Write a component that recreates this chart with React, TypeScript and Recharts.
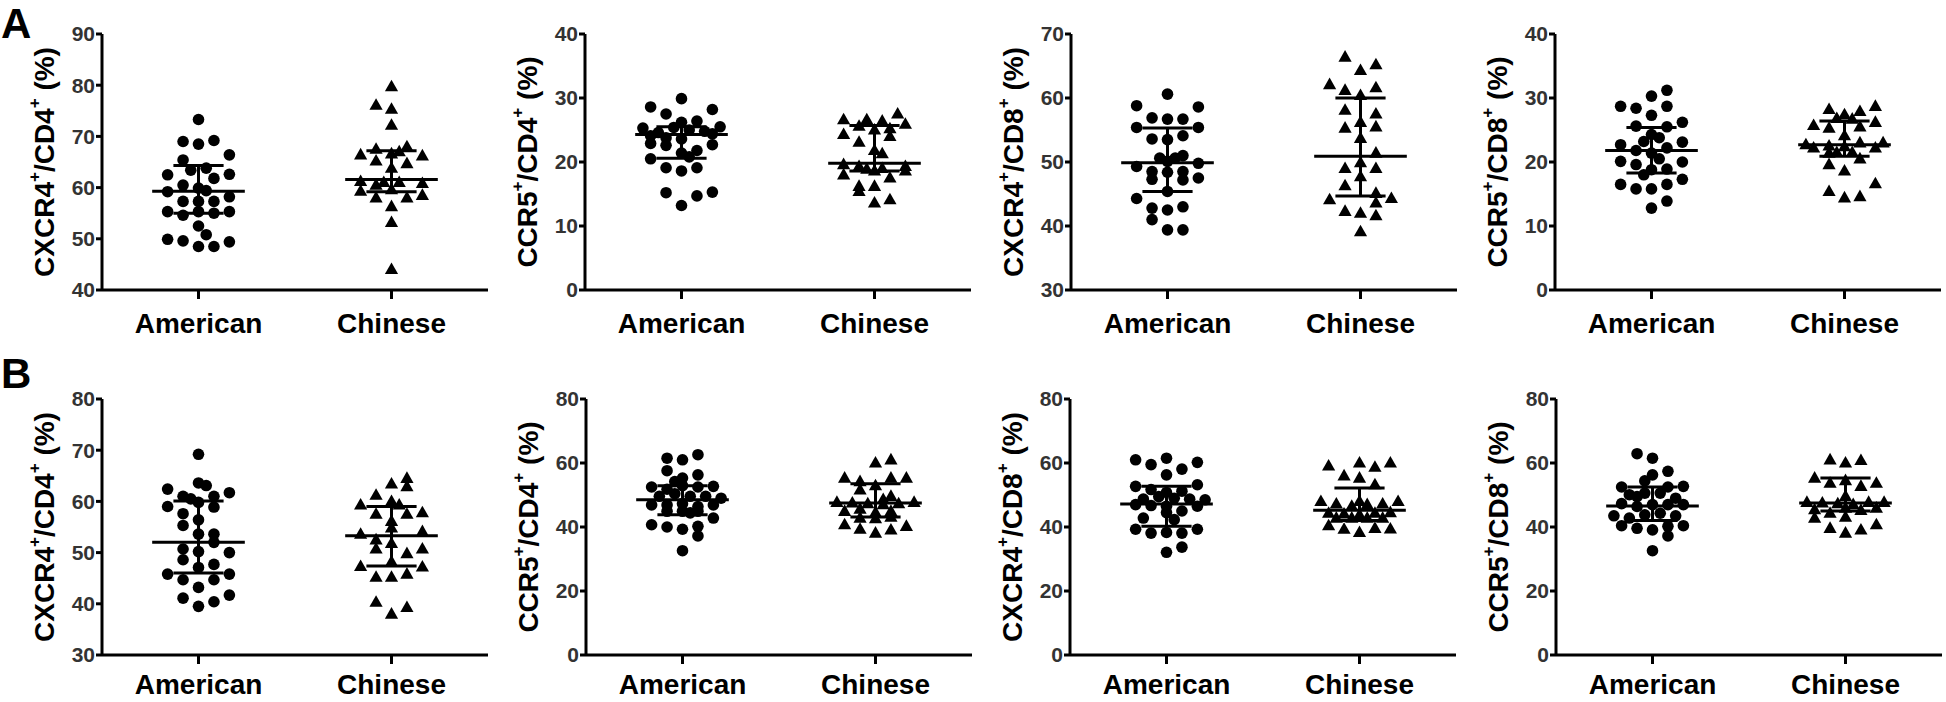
import React from 'react';
import { ScatterChart, Scatter, XAxis, YAxis, ReferenceLine } from 'recharts';

const FONT = '"Liberation Sans", Arial, sans-serif';
const groups = ['American', 'Chinese'];

// row A, CXCR4+/CD4+
const a1AmericanValues = [73.3, 69.0, 68.5, 69.2, 66.4, 65.4, 63.4, 63.8, 62.5, 62.6, 61.8, 60.5, 59.9, 59.4, 59.2, 58.2, 57.3, 57.3, 57.3, 55.3, 54.6, 55.3, 55.0, 55.3, 52.5, 50.8, 49.9, 49.6, 49.4, 48.5, 48.5];
const a1AmericanJitter = [0, -0.08, 0, 0.08, 0.16, -0.08, -0.04, 0.04, -0.16, 0.16, 0.08, -0.08, 0, 0.04, -0.16, 0.16, -0.08, 0, 0.08, -0.16, -0.08, 0, 0.08, 0.16, 0, 0.04, -0.16, -0.08, 0.16, 0, 0.08];
const a1ChineseValues = [79.7, 76.1, 75.3, 72.2, 66.4, 67.5, 66.6, 67.0, 68.0, 66.2, 65.2, 64.7, 63.8, 61.2, 60.5, 61.0, 61.0, 60.8, 59.3, 58.0, 59.6, 58.0, 58.5, 56.3, 53.2, 44.0];
const a1ChineseJitter = [0, -0.08, 0, 0, -0.16, -0.08, 0, 0.04, 0.08, 0.16, -0.08, 0.08, 0, -0.16, -0.08, -0.04, 0.04, 0.16, -0.16, -0.08, 0, 0.08, 0.16, 0, 0, 0];
const a1Mid = [59.3, 61.6];
const a1Low = [55.0, 59.2];
const a1High = [64.3, 67.2];

// row A, CCR5+/CD4+
const a2AmericanValues = [29.9, 28.6, 28.2, 27.5, 26.2, 26.4, 25.3, 25.5, 24.6, 25.4, 25.0, 24.8, 24.1, 24.4, 23.8, 22.9, 22.6, 21.4, 21.8, 22.7, 20.5, 19.1, 18.6, 19.1, 15.2, 14.7, 15.3, 13.2, 23.6, 20.8];
const a2AmericanJitter = [0, -0.16, 0.16, -0.08, 0, 0.08, -0.2, 0.2, -0.12, -0.04, 0.04, 0.12, -0.16, 0.16, -0.08, -0.16, -0.08, 0, 0.08, 0.16, -0.16, -0.08, 0, 0.08, -0.08, 0.08, 0.16, 0, 0, 0.04];
const a2ChineseValues = [27.5, 26.6, 26.6, 26.4, 25.9, 25.6, 25.2, 24.3, 24.0, 23.1, 21.8, 21.3, 19.6, 19.3, 18.9, 19.0, 19.3, 18.0, 18.6, 17.5, 18.6, 16.2, 15.4, 16.2, 13.6, 14.1, 25.0];
const a2ChineseJitter = [0.12, -0.16, -0.04, 0.04, 0.16, -0.08, 0.08, -0.16, 0.08, -0.08, 0, 0.04, -0.16, -0.08, -0.04, 0.04, 0.16, -0.16, 0, 0.08, 0.16, -0.08, -0.08, 0, 0, 0.08, 0];
const a2Mid = [24.3, 19.8];
const a2Low = [20.6, 18.6];
const a2High = [25.5, 25.7];

// row A, CXCR4+/CD8+
const a3AmericanValues = [60.6, 58.8, 58.6, 56.9, 56.7, 56.7, 55.4, 55.4, 53.6, 54.1, 53.5, 50.6, 51.0, 50.1, 50.6, 49.3, 49.8, 48.5, 48.4, 48.5, 47.3, 47.2, 47.5, 45.4, 44.3, 42.8, 42.5, 43.0, 41.0, 39.4, 39.4];
const a3AmericanJitter = [0, -0.16, 0.16, -0.08, 0, 0.08, -0.16, 0.16, -0.08, 0.08, 0, -0.04, 0.08, 0, 0.04, -0.16, 0.16, -0.08, 0, 0.08, -0.08, 0.08, 0.16, 0, -0.16, -0.08, 0, 0.08, -0.08, 0, 0.08];
const a3ChineseValues = [66.4, 65.2, 64.3, 62.1, 61.6, 61.2, 60.4, 58.1, 57.5, 56.2, 55.3, 55.5, 53.7, 51.4, 49.9, 49.0, 49.0, 47.7, 46.3, 45.1, 44.1, 43.6, 44.3, 42.3, 42.0, 41.6, 39.1];
const a3ChineseJitter = [-0.08, 0.08, 0, -0.16, 0.08, -0.08, 0, -0.08, 0.08, 0, -0.08, 0.08, 0, 0.08, 0, -0.08, 0.08, 0, -0.08, 0.08, -0.16, 0.08, 0.16, -0.08, 0, 0.08, 0];
const a3Mid = [49.9, 50.9];
const a3Low = [45.4, 44.7];
const a3High = [55.3, 60.0];

// row A, CCR5+/CD8+
const a4AmericanValues = [31.2, 30.3, 28.7, 28.4, 28.7, 27.3, 25.6, 25.5, 26.2, 24.3, 23.8, 23.2, 23.1, 22.7, 21.8, 22.2, 21.4, 20.1, 19.6, 20.5, 20.0, 18.8, 18.9, 18.0, 16.5, 15.8, 15.8, 16.5, 17.3, 13.9, 12.8];
const a4AmericanJitter = [0.08, 0, -0.16, -0.08, 0.08, 0, -0.08, 0.08, 0.16, 0, 0.04, -0.04, 0.16, -0.16, -0.08, 0.08, 0, -0.16, -0.08, 0.04, 0.16, 0, 0.08, -0.04, -0.16, -0.08, 0, 0.08, 0.16, 0.08, 0];
const a4ChineseValues = [28.7, 28.2, 27.9, 27.4, 26.8, 26.7, 25.7, 25.3, 25.5, 26.2, 24.1, 22.7, 22.2, 22.5, 22.4, 23.0, 22.2, 23.0, 21.4, 21.5, 21.5, 20.5, 19.6, 18.6, 16.6, 15.4, 14.4, 14.6];
const a4ChineseJitter = [0.16, -0.08, 0.08, 0, -0.04, 0.04, -0.16, -0.08, 0.08, 0.16, 0, -0.2, -0.16, -0.08, 0, 0.08, 0.16, 0.2, -0.08, -0.04, 0.04, 0.08, -0.08, 0, 0.16, -0.08, 0, 0.08];
const a4Mid = [21.8, 22.7];
const a4Low = [18.3, 20.9];
const a4High = [25.4, 26.4];

// row B, CXCR4+/CD4+
const b1AmericanValues = [69.2, 63.6, 63.1, 62.4, 61.7, 61.0, 61.0, 60.5, 59.0, 58.9, 59.8, 57.6, 56.4, 55.3, 53.6, 53.6, 52.0, 50.7, 50.2, 50.0, 48.6, 47.7, 47.1, 45.8, 45.8, 44.7, 44.7, 43.2, 41.7, 41.1, 40.4, 39.5];
const b1AmericanJitter = [0, 0, 0.04, -0.16, 0.16, -0.08, 0.08, -0.04, -0.16, 0.08, 0, -0.08, 0, -0.08, 0, 0.08, 0.08, -0.08, 0, 0.16, -0.08, 0.08, 0, -0.16, 0.16, -0.08, 0.08, 0, 0.16, -0.08, 0.08, 0];
const b1ChineseValues = [64.5, 62.9, 63.4, 61.2, 59.3, 60.0, 59.3, 57.5, 57.5, 57.8, 56.1, 54.8, 54.1, 53.6, 52.5, 51.8, 50.7, 50.7, 49.8, 47.3, 48.2, 47.2, 45.2, 45.2, 45.8, 40.3, 39.3, 38.0];
const b1ChineseJitter = [0.08, 0.08, 0, -0.08, -0.16, 0, 0.04, -0.08, 0.08, 0.16, 0, 0, 0.16, -0.16, -0.08, 0, -0.08, 0.16, 0.08, -0.16, 0, 0.16, -0.08, 0, 0.08, -0.08, 0.08, 0];
const b1Mid = [52.0, 53.3];
const b1Low = [46.0, 47.4];
const b1High = [60.1, 59.0];

// row B, CCR5+/CD4+
const b2AmericanValues = [62.6, 61.5, 61.0, 57.6, 56.3, 55.3, 54.2, 52.5, 51.8, 52.9, 52.5, 52.7, 49.6, 50.4, 49.6, 49.6, 49.0, 46.9, 46.9, 47.3, 46.4, 46.9, 44.9, 44.9, 44.4, 44.9, 42.8, 40.7, 40.0, 39.3, 40.2, 37.2, 32.6];
const b2AmericanJitter = [0.08, -0.08, 0, -0.08, 0.08, 0, -0.04, -0.16, -0.08, 0, 0.08, 0.16, -0.12, -0.04, 0.04, 0.12, 0.2, -0.16, -0.08, 0, 0.08, 0.16, -0.08, 0, 0.04, 0.08, 0.16, -0.16, -0.08, 0, 0.08, 0.08, 0];
const b2ChineseValues = [61.0, 60.0, 55.3, 55.3, 54.2, 55.3, 51.6, 52.9, 49.6, 48.6, 47.7, 47.5, 47.3, 47.0, 47.3, 47.7, 44.9, 45.6, 44.5, 44.9, 42.8, 42.6, 43.1, 40.7, 39.3, 38.1, 39.1, 40.2];
const b2ChineseJitter = [0.08, 0, -0.16, 0.16, -0.08, 0.08, -0.08, 0, 0.08, 0.04, -0.2, -0.12, -0.04, 0.04, 0.12, 0.2, -0.16, -0.08, 0, 0.08, -0.08, 0, 0.08, -0.16, -0.08, 0, 0.08, 0.16];
const b2Mid = [48.5, 47.5];
const b2Low = [43.8, 43.1];
const b2High = [52.9, 53.5];

// row B, CXCR4+/CD8+
const b3AmericanValues = [61.0, 61.5, 60.2, 59.5, 58.1, 56.3, 52.7, 53.2, 51.7, 50.8, 51.2, 48.7, 49.5, 49.0, 48.7, 48.5, 47.0, 46.7, 46.5, 45.0, 46.5, 42.8, 44.5, 42.3, 39.3, 38.1, 38.3, 38.1, 39.3, 33.7, 32.1];
const b3AmericanJitter = [-0.16, 0, 0.16, -0.08, 0.08, 0, -0.16, 0.16, -0.08, 0, 0.08, -0.12, -0.04, 0.04, 0.12, 0.2, -0.16, -0.08, 0, 0.08, 0.16, -0.12, 0, 0.04, -0.16, -0.08, 0, 0.08, 0.16, 0.08, 0];
const b3ChineseValues = [59.1, 60.0, 58.7, 60.0, 56.0, 55.3, 53.2, 48.0, 48.0, 48.0, 47.2, 46.5, 47.0, 47.2, 44.3, 44.1, 43.8, 44.3, 44.5, 42.8, 42.8, 42.8, 42.8, 40.4, 39.3, 38.3, 39.6, 39.4];
const b3ChineseJitter = [-0.16, 0, 0.08, 0.16, -0.08, 0, 0.08, 0, -0.2, 0.2, -0.12, -0.04, 0.04, 0.12, -0.16, -0.08, 0, 0.08, 0.16, -0.12, -0.04, 0.04, 0.12, -0.16, -0.08, 0, 0.08, 0.16];
const b3Mid = [47.2, 45.2];
const b3Low = [40.2, 42.0];
const b3High = [52.7, 52.2];

// row B, CCR5+/CD8+
const b4AmericanValues = [62.9, 61.5, 57.4, 56.3, 54.4, 52.5, 52.7, 52.5, 50.1, 50.6, 50.6, 49.0, 47.3, 46.4, 47.0, 47.0, 47.0, 43.5, 42.8, 43.8, 44.3, 43.5, 40.4, 39.6, 39.1, 40.2, 40.4, 37.2, 32.6, 49.5];
const b4AmericanJitter = [-0.08, 0, 0.08, 0, -0.04, -0.16, 0.16, 0.08, -0.12, -0.04, 0.04, 0.12, -0.16, -0.08, 0, 0.08, 0.16, -0.2, -0.12, -0.04, 0.04, 0.12, -0.16, -0.08, 0, 0.08, 0.16, 0.08, 0, -0.08];
const b4ChineseValues = [61.0, 60.0, 60.8, 55.3, 53.7, 53.7, 54.5, 52.7, 49.6, 47.7, 47.5, 47.3, 47.0, 47.7, 47.7, 45.4, 44.3, 45.9, 45.2, 45.9, 42.8, 43.1, 39.6, 38.1, 39.1, 40.7];
const b4ChineseJitter = [-0.08, 0, 0.08, -0.16, 0.16, -0.08, 0, 0.08, 0, -0.2, -0.12, -0.04, 0.04, 0.12, 0.2, -0.16, -0.08, 0, 0.08, 0.16, -0.16, 0, -0.08, 0, 0.08, 0.16];
const b4Mid = [46.6, 47.5];
const b4Low = [42.0, 45.0];
const b4High = [52.5, 55.3];

const tickRange = (lo: number, hi: number, step: number) => {
  const out: number[] = [];
  for (let v = lo; v <= hi; v += step) out.push(v);
  return out;
};

// row A charts are 350 tall, row B ones stop at the bottom of the page
const ROW_A = { top: 0, height: 350, labelDy: 32 };
const ROW_B = { top: 365, height: 337, labelDy: 28 };

const panels = [
  { row: ROW_A, axisX: 102, marker: 'CXCR4', cell: 'CD4', domain: [40, 90], ticks: tickRange(40, 90, 10), am: [a1AmericanValues, a1AmericanJitter], ch: [a1ChineseValues, a1ChineseJitter], mid: a1Mid, low: a1Low, high: a1High },
  { row: ROW_A, axisX: 585, marker: 'CCR5', cell: 'CD4', domain: [0, 40], ticks: tickRange(0, 40, 10), am: [a2AmericanValues, a2AmericanJitter], ch: [a2ChineseValues, a2ChineseJitter], mid: a2Mid, low: a2Low, high: a2High },
  { row: ROW_A, axisX: 1071, marker: 'CXCR4', cell: 'CD8', domain: [30, 70], ticks: tickRange(30, 70, 10), am: [a3AmericanValues, a3AmericanJitter], ch: [a3ChineseValues, a3ChineseJitter], mid: a3Mid, low: a3Low, high: a3High },
  { row: ROW_A, axisX: 1555, marker: 'CCR5', cell: 'CD8', domain: [0, 40], ticks: tickRange(0, 40, 10), am: [a4AmericanValues, a4AmericanJitter], ch: [a4ChineseValues, a4ChineseJitter], mid: a4Mid, low: a4Low, high: a4High },
  { row: ROW_B, axisX: 102, marker: 'CXCR4', cell: 'CD4', domain: [30, 80], ticks: tickRange(30, 80, 10), am: [b1AmericanValues, b1AmericanJitter], ch: [b1ChineseValues, b1ChineseJitter], mid: b1Mid, low: b1Low, high: b1High },
  { row: ROW_B, axisX: 586, marker: 'CCR5', cell: 'CD4', domain: [0, 80], ticks: tickRange(0, 80, 20), am: [b2AmericanValues, b2AmericanJitter], ch: [b2ChineseValues, b2ChineseJitter], mid: b2Mid, low: b2Low, high: b2High },
  { row: ROW_B, axisX: 1070, marker: 'CXCR4', cell: 'CD8', domain: [0, 80], ticks: tickRange(0, 80, 20), am: [b3AmericanValues, b3AmericanJitter], ch: [b3ChineseValues, b3ChineseJitter], mid: b3Mid, low: b3Low, high: b3High },
  { row: ROW_B, axisX: 1556, marker: 'CCR5', cell: 'CD8', domain: [0, 80], ticks: tickRange(0, 80, 20), am: [b4AmericanValues, b4AmericanJitter], ch: [b4ChineseValues, b4ChineseJitter], mid: b4Mid, low: b4Low, high: b4High },
];

const toPoints = (values: number[], jitter: number[], pos: number) =>
  values.map((v, i) => ({ x: pos + jitter[i], y: v }));

const Dot = (props: any) => <circle cx={props.cx} cy={props.cy} r={5.8} fill="#000" />;

const Tri = (props: any) => {
  const { cx, cy } = props;
  return <polygon points={`${cx},${cy - 7} ${cx - 6.6},${cy + 4.6} ${cx + 6.6},${cy + 4.6}`} fill="#000" />;
};

const GroupTick = (props: any) => {
  const { x, y, payload, labelDy } = props;
  return (
    <text x={x} y={y + labelDy} textAnchor="middle" fontFamily={FONT} fontSize={28} fontWeight={700} fill="#000">
      {groups[Math.round(payload.value) - 1]}
    </text>
  );
};

const YTitle = ({ marker, cell }: { marker: string; cell: string }) => (
  <text
    x={22}
    y={162}
    transform="rotate(-90 22 162)"
    textAnchor="middle"
    dominantBaseline="central"
    fontFamily={FONT}
    fontSize={28}
    fontWeight={700}
    fill="#000"
  >
    {marker}
    <tspan dy={-10} fontSize={17}>+</tspan>
    <tspan dy={10}>/{cell}</tspan>
    <tspan dy={-10} fontSize={17}>+</tspan>
    <tspan dy={10}>{' (%)'}</tspan>
  </text>
);

const MID_HALF = 0.24;
const CAP_HALF = 0.13;
const line = { stroke: '#000', strokeWidth: 3 };

const Panel = ({ p }: { p: (typeof panels)[number] }) => {
  const american = toPoints(p.am[0], p.am[1], 1);
  const chinese = toPoints(p.ch[0], p.ch[1], 2);
  const { top, height, labelDy } = p.row;
  // plot area is always 256 tall, starting 34px into the chart
  const xAxisHeight = height - 34 - 256 - 7;
  return (
    <div style={{ position: 'absolute', left: p.axisX - 80, top }}>
      <ScatterChart width={470} height={height} margin={{ top: 34, right: 4, bottom: 7, left: 20 }}>
        <XAxis
          type="number"
          dataKey="x"
          domain={[0.5, 2.5]}
          ticks={[1, 2]}
          interval={0}
          height={xAxisHeight}
          tickSize={9}
          tick={<GroupTick labelDy={labelDy} />}
          axisLine={line}
          tickLine={line}
          allowDataOverflow
        />
        <YAxis
          type="number"
          dataKey="y"
          domain={p.domain}
          ticks={p.ticks}
          interval={0}
          width={60}
          tickSize={6}
          tickMargin={1}
          tick={{ fill: '#333', fontSize: 21, fontWeight: 700, fontFamily: FONT }}
          axisLine={line}
          tickLine={line}
          allowDataOverflow
          label={{ content: () => <YTitle marker={p.marker} cell={p.cell} /> }}
        />
        <Scatter data={american} shape={Dot} isAnimationActive={false} />
        <Scatter data={chinese} shape={Tri} isAnimationActive={false} />
        {[1, 2].map((pos, i) => (
          <React.Fragment key={pos}>
            <ReferenceLine segment={[{ x: pos - MID_HALF, y: p.mid[i] }, { x: pos + MID_HALF, y: p.mid[i] }]} {...line} />
            <ReferenceLine segment={[{ x: pos - CAP_HALF, y: p.high[i] }, { x: pos + CAP_HALF, y: p.high[i] }]} {...line} />
            <ReferenceLine segment={[{ x: pos - CAP_HALF, y: p.low[i] }, { x: pos + CAP_HALF, y: p.low[i] }]} {...line} />
            <ReferenceLine segment={[{ x: pos, y: p.low[i] }, { x: pos, y: p.high[i] }]} {...line} />
          </React.Fragment>
        ))}
      </ScatterChart>
    </div>
  );
};

export default function App() {
  return (
    <div style={{ position: 'absolute', left: 0, top: 0, width: 1946, height: 702, overflow: 'hidden', background: '#fff' }}>
      {panels.map((p, i) => (
        <Panel key={i} p={p} />
      ))}
      <svg width={1946} height={702} style={{ position: 'absolute', left: 0, top: 0, pointerEvents: 'none' }}>
        <text x={1} y={38} fontFamily={FONT} fontSize={42} fontWeight={700} fill="#000">A</text>
        <text x={1} y={388} fontFamily={FONT} fontSize={42} fontWeight={700} fill="#000">B</text>
      </svg>
    </div>
  );
}
